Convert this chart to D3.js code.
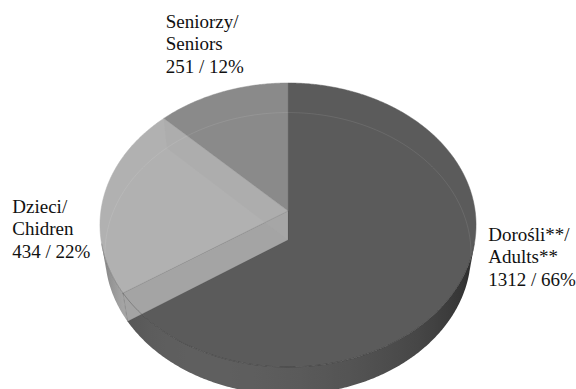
<!DOCTYPE html>
<html><head><meta charset="utf-8">
<script src="https://cdn.jsdelivr.net/npm/d3@7"></script>
</head><body style="margin:0;background:#fff">
<div id="wrap" style="position:relative;width:576px;height:389px;overflow:hidden"></div>
<script>
// ---- data ----
const categories = ["Dorośli**/ Adults**", "Dzieci/ Chidren", "Seniorzy/ Seniors"];
const labelLines = [["Dorośli**/", "Adults**"], ["Dzieci/", "Chidren"], ["Seniorzy/", "Seniors"]];
const values = [1312, 434, 251];
const percents = ["66%", "22%", "12%"];

// ---- styles / layout ----
const colors = ["#5b5b5b", "#b1b1b1", "#8a8a8a"];
const labelPos = [{x: 488.3, y: 241}, {x: 12.3, y: 213.3}, {x: 165.7, y: 28}];
const W = 576, H = 389;
const cam = {cx: 288, cy: 211, f: 1252, d: 6.691, el: 48.72 * Math.PI / 180};
const thick = 0.2414;
const ce = Math.cos(cam.el), se = Math.sin(cam.el);

function proj(X, Y, Z) {
  const dep = cam.d + Y * ce - Z * se;
  const up = Y * se + Z * ce;
  return [cam.cx + cam.f * X / dep, cam.cy - cam.f * up / dep];
}
const rim = (a, z) => proj(Math.sin(a), Math.cos(a), z);

const cLim = -1 / (cam.d * ce);
const vis0 = Math.acos(cLim), vis1 = 2 * Math.PI - Math.acos(cLim);

const wrap = d3.select("#wrap");
const svg = wrap.append("svg").attr("width", W).attr("height", H)
  .style("display", "block").style("position", "absolute").style("left", 0).style("top", 0);
const defs = svg.append("defs");
const line = d3.line();
const pie = d3.pie().sort(null).value(d => d);
const arcs = pie(values);

const step = 0.5 * Math.PI / 180;
function arcPts(a0, a1, z) {
  const n = Math.max(2, Math.ceil(Math.abs(a1 - a0) / step));
  return d3.range(n + 1).map(i => rim(a0 + (a1 - a0) * i / n, z));
}

const facingScale = d3.scaleLinear().domain([cLim, -1]).range([0, 1]).clamp(true);
function shade(col, a) {
  const facing = facingScale(Math.cos(a));
  const k = (0.42 + 0.5 * Math.sqrt(facing)) * (1 + 0.25 * Math.cos(a - 250 * Math.PI / 180));
  const c = d3.rgb(col);
  return d3.rgb(c.r * k, c.g * k, c.b * k).formatHex();
}

// 1. outer side walls
const gSide = svg.append("g");
arcs.forEach((s, i) => {
  const a0 = Math.max(s.startAngle, vis0), a1 = Math.min(s.endAngle, vis1);
  if (a0 >= a1) return;
  const xa = rim(a0, 0)[0], xb = rim(a1, 0)[0];
  const xl = Math.min(xa, xb), xr = Math.max(xa, xb);
  const gid = "side" + i;
  const g = defs.append("linearGradient").attr("id", gid)
    .attr("gradientUnits", "userSpaceOnUse")
    .attr("x1", xl).attr("x2", xr).attr("y1", 0).attr("y2", 0);
  const n = 40;
  d3.range(n + 1).map(j => a0 + (a1 - a0) * j / n)
    .map(a => ({off: (rim(a, 0)[0] - xl) / (xr - xl || 1), col: shade(colors[i], a)}))
    .sort((p, q) => p.off - q.off)
    .forEach(p => g.append("stop").attr("offset", p.off).attr("stop-color", p.col));
  const pts = [...arcPts(a0, a1, 0), ...arcPts(a1, a0, -thick)];
  gSide.append("path").attr("d", line(pts) + "Z").attr("fill", `url(#${gid})`);
});

// 2. top faces
const gTop = svg.append("g");
function topPath(s) {
  return line([proj(0, 0, 0), ...arcPts(s.startAngle, s.endAngle, 0)]) + "Z";
}
function radialFace(a) {
  return line([proj(0, 0, 0), rim(a, 0), rim(a, -thick), proj(0, 0, -thick)]) + "Z";
}
[0, 2].forEach(i => {
  gTop.append("path").attr("d", topPath(arcs[i])).attr("fill", colors[i])
    .attr("stroke", colors[i]).attr("stroke-width", 0.5);
});
gTop.append("path").attr("d", radialFace(arcs[1].startAngle))
  .attr("fill", "#a4a4a4").attr("stroke", "rgba(0,0,0,0.18)").attr("stroke-width", 0.6);
gTop.append("path").attr("d", topPath(arcs[1])).attr("fill", colors[1])
  .attr("stroke", colors[1]).attr("stroke-width", 0.5);
gTop.append("path").attr("d", radialFace(arcs[1].endAngle))
  .attr("fill", "#a9a9a9").attr("opacity", 0.45);

svg.append("path").attr("d", line(arcPts(vis1, vis0 + 2 * Math.PI, -thick)))
  .attr("fill", "none").attr("stroke", "rgba(255,255,255,0.09)").attr("stroke-width", 1);
svg.append("path").attr("d", line(arcPts(vis0, vis1, 0)))
  .attr("fill", "none").attr("stroke", "rgba(0,0,0,0.28)").attr("stroke-width", 0.8);
arcs.forEach(s => {
  svg.append("path").attr("d", line([proj(0, 0, 0), rim(s.startAngle, 0)]))
    .attr("stroke", "rgba(0,0,0,0.12)").attr("stroke-width", 0.6).attr("fill", "none");
});

// 3. labels as HTML blocks (serif)
arcs.forEach((s, i) => {
  const lines = [...labelLines[i], values[i] + " / " + percents[i]];
  const div = wrap.append("div")
    .style("position", "absolute").style("left", labelPos[i].x + "px")
    .style("top", (labelPos[i].y - 17.5) + "px")
    .style("font-family", "'Liberation Serif', 'Times New Roman', Tinos, serif")
    .style("font-size", "19px").style("line-height", "22.5px")
    .style("color", "#111").style("white-space", "nowrap");
  lines.forEach(l => div.append("div").text(l));
});
</script>
</body></html>
